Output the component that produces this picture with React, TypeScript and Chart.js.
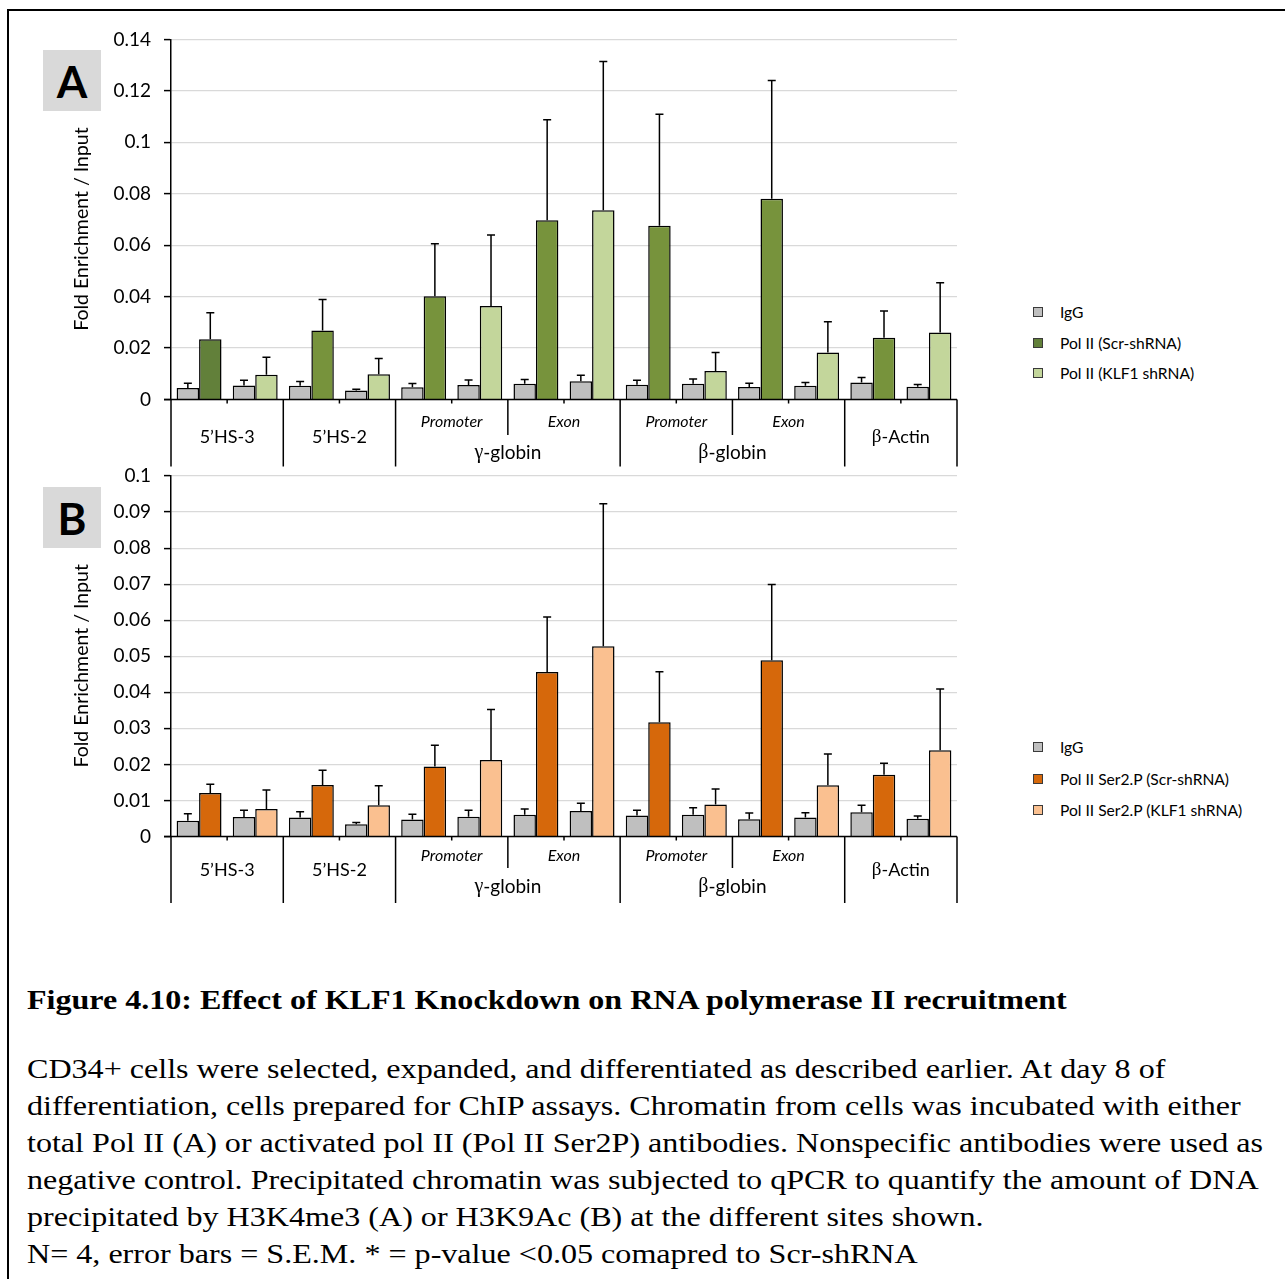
import React, { useEffect, useRef } from "react";
import { Chart, registerables } from "chart.js";

Chart.register(...registerables);

// ---------- categories ----------
const siteNames = ["5’HS-3", "5’HS-2", "Promoter", "Exon", "Promoter", "Exon", "β-Actin"];
const siteIsSub = [false, false, true, true, true, true, false];
const groupNames = ["γ-globin", "β-globin"];
const groupStarts = [2, 4];
// two bar pairs per site: (IgG + Scr-shRNA), (IgG + KLF1 shRNA)
const pairLabels = [
  "5’HS-3 Scr", "5’HS-3 KLF1", "5’HS-2 Scr", "5’HS-2 KLF1",
  "γ Promoter Scr", "γ Promoter KLF1", "γ Exon Scr", "γ Exon KLF1",
  "β Promoter Scr", "β Promoter KLF1", "β Exon Scr", "β Exon KLF1",
  "β-Actin Scr", "β-Actin KLF1",
];

// ---------- Panel A (total Pol II) ----------
const seriesNamesA = ["IgG", "Pol II (Scr-shRNA)", "Pol II (KLF1 shRNA)"];
const igGA = [0.0045, 0.0054, 0.0053, 0.0035, 0.0048, 0.0056, 0.0061, 0.0071, 0.0057, 0.0061, 0.0049, 0.0053, 0.0066, 0.0050];
const igGSemA = [0.0018, 0.0021, 0.0017, 0.0005, 0.0014, 0.0020, 0.0017, 0.0023, 0.0018, 0.0019, 0.0014, 0.0013, 0.0020, 0.0008];
const scrA = [0.0234, 0.0268, 0.0402, 0.0697, 0.0676, 0.0781, 0.0240];
const scrSemA = [0.0103, 0.0121, 0.0204, 0.0391, 0.0433, 0.0460, 0.0104];
const klfA = [0.0096, 0.0098, 0.0364, 0.0736, 0.0111, 0.0183, 0.0261];
const klfSemA = [0.0068, 0.0061, 0.0276, 0.0578, 0.0072, 0.0119, 0.0193];

// ---------- Panel B (Pol II Ser2P) ----------
const seriesNamesB = ["IgG", "Pol II Ser2.P (Scr-shRNA)", "Pol II Ser2.P (KLF1 shRNA)"];
const igGB = [0.0044, 0.0054, 0.0053, 0.0034, 0.0047, 0.0055, 0.0060, 0.0071, 0.0058, 0.0060, 0.0048, 0.0053, 0.0067, 0.0049];
const igGSemB = [0.0019, 0.0019, 0.0016, 0.0005, 0.0015, 0.0018, 0.0016, 0.0021, 0.0015, 0.0020, 0.0017, 0.0013, 0.0020, 0.0008];
const scrB = [0.0121, 0.0143, 0.0194, 0.0456, 0.0317, 0.0489, 0.0171];
const scrSemB = [0.0024, 0.0041, 0.0059, 0.0153, 0.0140, 0.0210, 0.0032];
const klfB = [0.0076, 0.0087, 0.0212, 0.0528, 0.0089, 0.0142, 0.0239];
const klfSemB = [0.0053, 0.0054, 0.0140, 0.0395, 0.0043, 0.0087, 0.0170];

// ---------- styles ----------
const colorsA = ["#BFBFBF", "#62803A", "#C3D69B"];
const scrBarColorsA = ["#62803A", "#77933C", "#77933C", "#77933C", "#77933C", "#77933C", "#77933C"];
const colorsB = ["#BFBFBF", "#D6680B", "#FAC090"];
const scrBarColorsB = ["#D6680B", "#D6680B", "#D6680B", "#D6680B", "#D6680B", "#D6680B", "#D6680B"];

const SANS = "Lato, 'DejaVu Sans', sans-serif";
const SERIF = "'Liberation Serif', 'DejaVu Serif', serif";

type Offsets = { site: number; sub: number; group: number; sep: number; subSep: number };

function spread(vals: any[], even: boolean): any[] {
  const out: any[] = [];
  vals.forEach((v) => {
    if (even) out.push(v, null);
    else out.push(null, v);
  });
  return out;
}

function drawMixed(ctx: CanvasRenderingContext2D, text: string, cx: number, y: number, size: number, italic: boolean) {
  const m = text.match(/^([βγ])(.*)$/);
  const segs: [string, string][] = m
    ? [[m[1], `${size + 1}px ${SERIF}`], [m[2], `${size}px ${SANS}`]]
    : [[text, `${italic ? "italic " : ""}${size}px ${SANS}`]];
  let total = 0;
  const widths = segs.map(([t, f]) => {
    ctx.font = f;
    const w = ctx.measureText(t).width;
    total += w;
    return w;
  });
  ctx.textBaseline = "middle";
  ctx.textAlign = "left";
  ctx.fillStyle = "#000";
  let x = cx - total / 2;
  segs.forEach(([t, f], i) => {
    ctx.font = f;
    ctx.fillText(t, x, y);
    x += widths[i];
  });
}

function makeAxisPlugin(off: Offsets) {
  return {
    id: "siteAxis",
    afterDraw(chart: any) {
      const { ctx, chartArea: a, scales } = chart;
      const xs = scales.x;
      const n = chart.data.labels.length;
      const b = (i: number) =>
        i <= 0 ? a.left : i >= n ? a.right : (xs.getPixelForValue(i - 1) + xs.getPixelForValue(i)) / 2;
      ctx.save();
      ctx.strokeStyle = "#000";
      ctx.lineWidth = 1.5;
      const line = (x1: number, y1: number, x2: number, y2: number) => {
        ctx.beginPath();
        ctx.moveTo(x1, y1);
        ctx.lineTo(x2, y2);
        ctx.stroke();
      };
      line(a.left - 7, a.bottom, a.right, a.bottom);
      for (let s = 0; s <= siteNames.length; s++) {
        const xx = b(2 * s);
        const len = s === 3 || s === 5 ? off.subSep : off.sep;
        line(xx, a.bottom, xx, a.bottom + len);
      }
      for (let s = 0; s < siteNames.length; s++) {
        const xx = b(2 * s + 1);
        line(xx, a.bottom, xx, a.bottom + 4);
      }
      siteNames.forEach((name, s) => {
        const cx = (b(2 * s) + b(2 * s + 2)) / 2;
        if (siteIsSub[s]) drawMixed(ctx, name, cx, a.bottom + off.sub, 16, true);
        else drawMixed(ctx, name, cx, a.bottom + off.site, 18, false);
      });
      groupNames.forEach((g, k) => {
        const s0 = groupStarts[k];
        const cx = (b(2 * s0) + b(2 * s0 + 4)) / 2;
        drawMixed(ctx, g, cx, a.bottom + off.group, 19, false);
      });
      // y-axis title
      ctx.translate(82, (a.top + a.bottom) / 2 + 9.5);
      ctx.rotate(-Math.PI / 2);
      ctx.font = `19.5px ${SANS}`;
      ctx.textAlign = "center";
      ctx.textBaseline = "middle";
      ctx.fillStyle = "#000";
      ctx.fillText("Fold Enrichment / Input", 0, 0);
      ctx.restore();
    },
  };
}

const errorBarPlugin = {
  id: "errorBars",
  afterDatasetsDraw(chart: any) {
    const { ctx, scales } = chart;
    const ys = scales.y;
    ctx.save();
    ctx.strokeStyle = "#000";
    ctx.lineWidth = 1.5;
    chart.data.datasets.forEach((ds: any, di: number) => {
      const meta = chart.getDatasetMeta(di);
      meta.data.forEach((el: any, i: number) => {
        const v = ds.data[i];
        const e = ds.errors[i];
        if (v == null || e == null) return;
        const yTop = ys.getPixelForValue(v + e);
        const yBar = ys.getPixelForValue(v);
        ctx.beginPath();
        ctx.moveTo(el.x, yBar);
        ctx.lineTo(el.x, yTop);
        ctx.moveTo(el.x - 4, yTop);
        ctx.lineTo(el.x + 4, yTop);
        ctx.stroke();
      });
    });
    ctx.restore();
  },
};

type PanelProps = {
  top: number;
  height: number;
  padTop: number;
  padBottom: number;
  max: number;
  step: number;
  names: string[];
  colors: string[];
  scrColors: string[];
  igG: number[];
  igGSem: number[];
  scr: number[];
  scrSem: number[];
  klf: number[];
  klfSem: number[];
  offsets: Offsets;
};

function Panel(p: PanelProps) {
  const ref = useRef<HTMLCanvasElement>(null);
  useEffect(() => {
    const W = 1000;
    const padLeft = 100;
    const chart = new Chart(ref.current as HTMLCanvasElement, {
      type: "bar",
      data: {
        labels: pairLabels,
        datasets: [
          {
            label: p.names[0],
            data: p.igG,
            errors: p.igGSem,
            backgroundColor: p.colors[0],
          } as any,
          {
            label: p.names[1],
            data: spread(p.scr, true),
            errors: spread(p.scrSem, true),
            backgroundColor: spread(p.scrColors, true),
          } as any,
          {
            label: p.names[2],
            data: spread(p.klf, false),
            errors: spread(p.klfSem, false),
            backgroundColor: p.colors[2],
          } as any,
        ],
      },
      options: {
        animation: false,
        responsive: false,
        maintainAspectRatio: false,
        devicePixelRatio: 1,
        events: [],
        layout: { padding: { left: padLeft, top: p.padTop, right: W - 957, bottom: p.padBottom } },
        datasets: {
          bar: {
            categoryPercentage: 0.8,
            barPercentage: 1.0,
            skipNull: true,
            borderWidth: 1.5,
            borderColor: "#000",
          },
        },
        plugins: {
          legend: { display: false },
          tooltip: { enabled: false },
          title: { display: false },
        },
        scales: {
          x: { display: false, offset: true },
          y: {
            min: 0,
            max: p.max,
            afterFit: (s: any) => {
              s.width = 171 - padLeft;
              s.paddingTop = 2;
              s.paddingBottom = 2;
            },
            ticks: {
              stepSize: p.step,
              padding: 13,
              color: "#000",
              font: { family: SANS, size: 19 },
              callback: (v: any) => String(parseFloat(Number(v).toFixed(4))),
            },
            grid: {
              color: "#D9D9D9",
              lineWidth: 1.2,
              tickColor: "#000",
              tickLength: 7,
              tickWidth: 1.5,
            },
            border: { display: true, color: "#000", width: 1.5 },
          },
        },
      } as any,
      plugins: [errorBarPlugin, makeAxisPlugin(p.offsets)],
    });
    return () => chart.destroy();
  }, []);
  return (
    <canvas
      ref={ref}
      width={1000}
      height={p.height}
      style={{ position: "absolute", left: 0, top: p.top, width: 1000, height: p.height }}
    />
  );
}

function Legend({ top, names, colors, gap }: { top: number; names: string[]; colors: string[]; gap: number }) {
  return (
    <>
      {names.map((t, i) => (
        <div
          key={t}
          style={{
            position: "absolute",
            left: 1033,
            top: top + i * gap - 10,
            height: 20,
            display: "flex",
            alignItems: "center",
            whiteSpace: "nowrap",
          }}
        >
          <span
            style={{
              display: "inline-block",
              width: 10,
              height: 10,
              background: colors[i],
              border: "1px solid #3a3a3a",
              boxSizing: "border-box",
            }}
          />
          <span style={{ marginLeft: 17, font: `15.6px ${SANS}`, color: "#000" }}>{t}</span>
        </div>
      ))}
    </>
  );
}

function PanelTag({ top, letter }: { top: number; letter: string }) {
  return (
    <div
      style={{
        position: "absolute",
        left: 43,
        top,
        width: 58,
        height: 61,
        background: "#D9D9D9",
        display: "flex",
        alignItems: "center",
        justifyContent: "center",
        font: `bold 44px ${SANS}`,
        color: "#000",
      }}
    >
      {letter}
    </div>
  );
}

const captionTitle = "Figure 4.10: Effect of KLF1 Knockdown on RNA polymerase II recruitment";
const captionLines = [
  "CD34+ cells were selected, expanded, and differentiated as described earlier. At day 8 of",
  "differentiation, cells prepared for ChIP assays. Chromatin from cells was incubated with either",
  "total Pol II (A) or activated pol II (Pol II Ser2P) antibodies. Nonspecific antibodies were used as",
  "negative control. Precipitated chromatin was subjected to qPCR to quantify the amount of DNA",
  "precipitated by H3K4me3 (A) or H3K9Ac (B) at the different sites shown.",
  "N= 4, error bars = S.E.M. * = p-value <0.05 comapred to Scr-shRNA",
];

export default function App() {
  return (
    <div>
      <div
        style={{
          position: "absolute",
          left: 7,
          top: 9,
          width: 1278,
          height: 1270,
          borderTop: "2px solid #000",
          borderLeft: "2px solid #000",
          boxSizing: "border-box",
        }}
      />
      <Panel
        top={20}
        height={455}
        padTop={19.5}
        padBottom={75.5}
        max={0.14}
        step={0.02}
        names={seriesNamesA}
        colors={colorsA}
        scrColors={scrBarColorsA}
        igG={igGA}
        igGSem={igGSemA}
        scr={scrA}
        scrSem={scrSemA}
        klf={klfA}
        klfSem={klfSemA}
        offsets={{ site: 38, sub: 22, group: 53.5, sep: 67, subSep: 35.5 }}
      />
      <Panel
        top={460}
        height={450}
        padTop={16}
        padBottom={73.5}
        max={0.1}
        step={0.01}
        names={seriesNamesB}
        colors={colorsB}
        scrColors={scrBarColorsB}
        igG={igGB}
        igGSem={igGSemB}
        scr={scrB}
        scrSem={scrSemB}
        klf={klfB}
        klfSem={klfSemB}
        offsets={{ site: 34, sub: 19, group: 50, sep: 66.5, subSep: 31.5 }}
      />
      <PanelTag top={50} letter="A" />
      <PanelTag top={487} letter="B" />
      <Legend top={312} names={seriesNamesA} colors={colorsA} gap={30.5} />
      <Legend top={747} names={seriesNamesB} colors={colorsB} gap={31.5} />
      <div
        style={{
          position: "absolute",
          left: 27,
          top: 984,
          font: `bold 28px ${SERIF}`,
          lineHeight: "32px",
          whiteSpace: "nowrap",
          color: "#000",
          transform: "scaleX(1.145)",
          transformOrigin: "0 0",
        }}
      >
        {captionTitle}
      </div>
      <div
        style={{
          position: "absolute",
          left: 27,
          top: 1050,
          font: `28px ${SERIF}`,
          lineHeight: "37px",
          whiteSpace: "nowrap",
          color: "#000",
          transform: "scaleX(1.146)",
          transformOrigin: "0 0",
        }}
      >
        {captionLines.map((l, i) => (
          <div key={i}>{l}</div>
        ))}
      </div>
    </div>
  );
}
